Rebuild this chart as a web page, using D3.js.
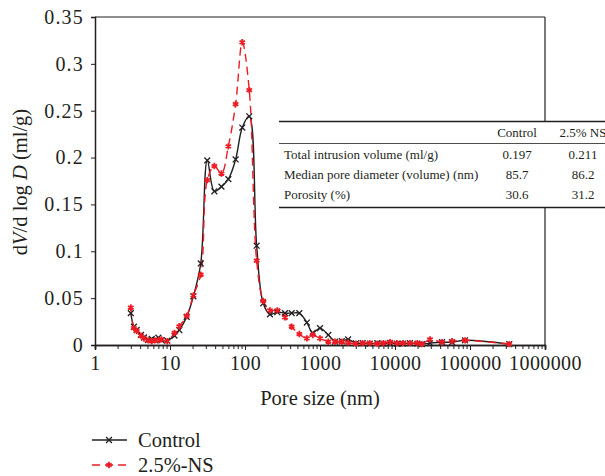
<!DOCTYPE html>
<html><head><meta charset="utf-8">
<script src="https://cdn.jsdelivr.net/npm/d3@7"></script>
<style>body{margin:0;background:#fff}svg{display:block}text{font-family:"Liberation Serif","DejaVu Serif",serif;fill:#231f20}</style>
</head><body>
<script>
const poreSize = [3.0,3.3,3.6,4.1,4.5,5.1,5.7,6.3,7.0,7.7,9.2,
  11.5,13.3,16.7,20.5,25.7,31.4,39,48.5,60,
  75,92,114,143,175,215,270,341,419,530,
  668,800,1000,1290,1585,1950,
  2370,3020,3700,4600,5800,7000,8600,10600,12800,15800,19900,22800,29300,42400,57700,85800,334000];
const control = [0.034,0.0195,0.016,0.0107,0.008,0.0053,0.0064,0.0053,0.0078,0.0053,0.0046,
  0.010,0.016,0.030,0.052,0.087,0.197,0.164,0.169,0.177,
  0.198,0.232,0.244,0.106,0.0445,0.0327,0.035,0.034,0.034,0.034,
  0.024,0.013,0.018,0.0107,0.0035,0.004,
  0.006,0.0018,0.002,0.0015,0.002,0.0015,0.002,0.0015,0.0015,0.002,0.0015,0.001,0.002,0.003,0.003,0.005,0.001];
const ns25 = [0.040,0.018,0.015,0.010,0.007,0.005,0.004,0.005,0.005,0.006,0.004,
  0.013,0.020,0.031,0.053,0.075,0.176,0.191,0.183,0.212,
  0.257,0.323,0.272,0.090,0.047,0.037,0.037,0.0295,0.0195,0.0117,
  0.0071,0.0107,0.0071,0.0035,0.0035,0.0035,
  0.0025,0.0015,0.002,0.002,0.0015,0.002,0.003,0.002,0.002,0.002,0.002,0.001,0.006,0.003,0.004,0.005,0.001];
const seriesNames = ["Control","2.5%-NS"];
const xTicks = [1,10,100,1000,10000,100000,1000000];
const yTicks = [0,0.05,0.1,0.15,0.2,0.25,0.3,0.35];
const tableHeader = ["","Control","2.5% NS"];
const tableRows = [
  ["Total intrusion volume (ml/g)","0.197","0.211"],
  ["Median pore diameter (volume) (nm)","85.7","86.2"],
  ["Porosity (%)","30.6","31.2"]
];

const W=605,H=476;
const svg=d3.select("body").append("svg").attr("width",W).attr("height",H);
const L=95,R=545,T=17,B=345;
const x=d3.scaleLog().domain([1,1000000]).range([L,R]);
const y=d3.scaleLinear().domain([0,0.35]).range([B,T]);
const black="#231f20", red="#ed1c24";

// frame
svg.append("line").attr("x1",L).attr("x2",R).attr("y1",T).attr("y2",T).attr("stroke",black).attr("stroke-width",1.2);
svg.append("line").attr("x1",R).attr("x2",R).attr("y1",T).attr("y2",B).attr("stroke",black).attr("stroke-width",1.2);

// axes
const minor=[];
for(let e=0;e<6;e++){for(let k=2;k<10;k++)minor.push(k*Math.pow(10,e));}
const gx=svg.append("g").attr("transform",`translate(0,${B})`);
gx.call(d3.axisBottom(x).tickValues(minor).tickSize(4).tickFormat(""));
gx.append("g").call(d3.axisBottom(x).tickValues(xTicks).tickSize(5).tickPadding(6).tickFormat(d3.format("d")));
gx.selectAll("path.domain").attr("stroke",black).attr("stroke-width",1.5);
gx.selectAll("line").attr("stroke",black);
gx.selectAll("text").attr("font-size",20).attr("letter-spacing",0.4).style("font-family",'"Liberation Serif",serif').attr("fill",black);

const gy=svg.append("g").attr("transform",`translate(${L},0)`);
gy.call(d3.axisLeft(y).tickValues(yTicks).tickSize(4).tickPadding(7).tickFormat(d=>d===0?"0":String(+d.toFixed(2))));
gy.selectAll("path.domain").attr("stroke",black).attr("stroke-width",1.5);
gy.selectAll("line").attr("stroke",black);
gy.selectAll("text").attr("font-size",20).attr("letter-spacing",1.2).style("font-family",'"Liberation Serif",serif').attr("fill",black);

// titles
svg.append("text").attr("x",(L+R)/2).attr("y",405).attr("text-anchor","middle").attr("font-size",20.5).text("Pore size (nm)");
const yt=svg.append("text").attr("transform","translate(27,182) rotate(-90)").attr("text-anchor","middle").attr("font-size",20.5);
yt.append("tspan").text("d");
yt.append("tspan").attr("font-style","italic").text("V");
yt.append("tspan").text("/d log ");
yt.append("tspan").attr("font-style","italic").text("D");
yt.append("tspan").text(" (ml/g)");

// lines
const line=d3.line().x(d=>x(d[0])).y(d=>y(d[1])).curve(d3.curveCatmullRom.alpha(0.5));
const dC=poreSize.map((p,i)=>[p,control[i]]);
const dN=poreSize.map((p,i)=>[p,ns25[i]]);
svg.append("path").attr("d",line(dC)).attr("fill","none").attr("stroke",black).attr("stroke-width",1.4);
svg.append("path").attr("d",line(dN)).attr("fill","none").attr("stroke",red).attr("stroke-width",1.4).attr("stroke-dasharray","8,5");
const timesSym=d3.symbol().type(d3.symbolTimes).size(24);
const starSym=d3.symbol().type(d3.symbolAsterisk).size(28);
svg.append("g").selectAll("path").data(dC).join("path").attr("d",timesSym)
  .attr("transform",d=>`translate(${x(d[0])},${y(d[1])})`).attr("fill","none").attr("stroke",black).attr("stroke-width",1.3);
svg.append("g").selectAll("path").data(dN).join("path").attr("d",starSym)
  .attr("transform",d=>`translate(${x(d[0])},${y(d[1])})`).attr("fill","none").attr("stroke",red).attr("stroke-width",1.8);

// table
const tg=svg.append("g");
tg.append("rect").attr("x",279).attr("y",121).attr("width",W-279).attr("height",87).attr("fill","#fff");
tg.append("line").attr("x1",279).attr("x2",W).attr("y1",121.5).attr("y2",121.5).attr("stroke",black).attr("stroke-width",1.3);
tg.append("line").attr("x1",279).attr("x2",W).attr("y1",143.5).attr("y2",143.5).attr("stroke",black).attr("stroke-width",0.8);
tg.append("line").attr("x1",279).attr("x2",W).attr("y1",207.5).attr("y2",207.5).attr("stroke",black).attr("stroke-width",1.3);
const colX=[284,517,583];
tableHeader.forEach((t,i)=>{ if(t) tg.append("text").attr("x",colX[i]).attr("y",137).attr("text-anchor","middle").attr("font-size",13).text(t);});
tableRows.forEach((r,j)=>{
  const yy=159+j*20;
  r.forEach((t,i)=>tg.append("text").attr("x",colX[i]).attr("y",yy).attr("text-anchor",i===0?"start":"middle").attr("font-size",13).text(t));
});

// legend
const lg=svg.append("g");
const legY=[440,465];
[[black,null,timesSym,1.3],[red,"8,5",starSym,1.8]].forEach((s,i)=>{
  lg.append("line").attr("x1",92).attr("x2",127).attr("y1",legY[i]).attr("y2",legY[i]).attr("stroke",s[0]).attr("stroke-width",1.4).attr("stroke-dasharray",s[1]);
  lg.append("path").attr("d",s[2]).attr("transform",`translate(109,${legY[i]})`).attr("fill","none").attr("stroke",s[0]).attr("stroke-width",s[3]);
  lg.append("text").attr("x",138).attr("y",legY[i]+7).attr("font-size",20.5).text(seriesNames[i]);
});
</script>
</body></html>
